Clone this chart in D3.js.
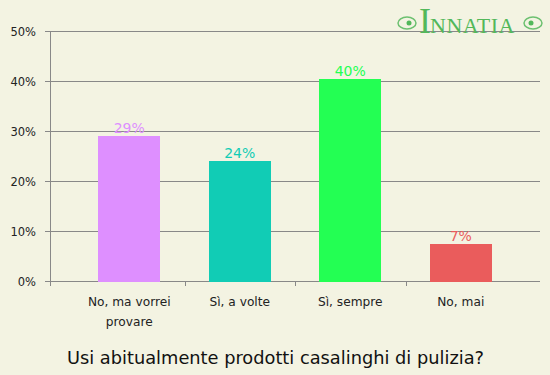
<!DOCTYPE html>
<html><head><meta charset="utf-8">
<script src="https://cdn.jsdelivr.net/npm/d3@7"></script>
<style>body{margin:0;background:#f3f3e2}svg{display:block}</style>
</head><body>
<script>
const categories = [["No, ma vorrei","provare"],["Sì, a volte"],["Sì, sempre"],["No, mai"]];
const values = [29, 24, 40.4, 7.4];
const colors = ["#de8fff","#11ccb5","#23ff53","#ea5c5c"];
const yTicks = [0,10,20,30,40,50];
const title = "Usi abitualmente prodotti casalinghi di pulizia?";

const W=550,H=375;
const svg=d3.select("body").append("svg").attr("width",W).attr("height",H);
svg.append("rect").attr("width",W).attr("height",H).attr("fill","#f3f3e2");
const x=d3.scaleBand().domain(d3.range(categories.length)).range([74,516]);
const y=d3.scaleLinear().domain([0,50]).range([281,31]);
const font="DejaVu Sans";

// gridlines
svg.append("g").selectAll("line").data(yTicks).join("line")
 .attr("x1",50).attr("x2",540).attr("y1",d=>y(d)+0.5).attr("y2",d=>y(d)+0.5)
 .attr("stroke","#888").attr("stroke-width",1);
// y axis
svg.append("line").attr("x1",50.5).attr("x2",50.5).attr("y1",31).attr("y2",286).attr("stroke","#888");
svg.append("g").selectAll("line").data(yTicks).join("line")
 .attr("x1",45).attr("x2",50).attr("y1",d=>y(d)+0.5).attr("y2",d=>y(d)+0.5).attr("stroke","#888");
svg.append("g").selectAll("text").data(yTicks).join("text")
 .attr("x",36).attr("y",d=>y(d)+4.5).attr("text-anchor","end")
 .attr("font-family",font).attr("font-size",11.5).attr("fill","#222").text(d=>d+"%");
// x ticks
const xt=d3.range(1,categories.length).map(i=>x(i));
svg.append("g").selectAll("line").data(xt).join("line")
 .attr("x1",d=>Math.round(d)+0.5).attr("x2",d=>Math.round(d)+0.5).attr("y1",281).attr("y2",286).attr("stroke","#888");
// bars
const bw=62;
svg.append("g").selectAll("rect").data(values).join("rect")
 .attr("x",(d,i)=>Math.round(x(i)+(x.bandwidth()-bw)/2)).attr("width",bw)
 .attr("y",d=>y(d)).attr("height",d=>y(0)-y(d)+1).attr("fill",(d,i)=>colors[i]);
// value labels
svg.append("g").selectAll("text").data(values).join("text")
 .attr("x",(d,i)=>x(i)+x.bandwidth()/2).attr("y",d=>y(d)-3).attr("text-anchor","middle")
 .attr("font-family",font).attr("font-size",14).attr("fill",(d,i)=>colors[i]).text(d=>Math.round(d)+"%");
// category labels
const cl=svg.append("g").selectAll("text").data(categories).join("text")
 .attr("x",(d,i)=>x(i)+x.bandwidth()/2).attr("y",306).attr("text-anchor","middle")
 .attr("font-family",font).attr("font-size",12.2).attr("fill","#222");
cl.selectAll("tspan").data(d=>d).join("tspan")
 .attr("x",function(){return this.parentNode.getAttribute("x");})
 .attr("dy",(d,i)=>i?20:0).text(d=>d);
// title
svg.append("text").attr("x",275.5).attr("y",364).attr("text-anchor","middle")
 .attr("font-family",font).attr("font-size",17.8).attr("fill","#111").text(title);
// logo
const lg=svg.append("g").attr("fill","#52b85a");
lg.append("text").attr("x",419).attr("y",33).attr("font-family","Liberation Serif").attr("font-size",36).text("I");
lg.append("text").attr("x",430).attr("y",33).attr("font-family","Liberation Serif").attr("font-size",22).attr("letter-spacing",0.5).text("NNATIA");
[[407,23],[533,23]].forEach(([cx,cy],k)=>{
  lg.append("ellipse").attr("cx",cx).attr("cy",cy).attr("rx",9).attr("ry",6).attr("fill","none").attr("stroke","#6cc070").attr("stroke-width",1.5);
  lg.append("circle").attr("cx",cx+(k?-2:2)).attr("cy",cy).attr("r",2.5).attr("fill","#52b85a");
});
</script>
</body></html>
